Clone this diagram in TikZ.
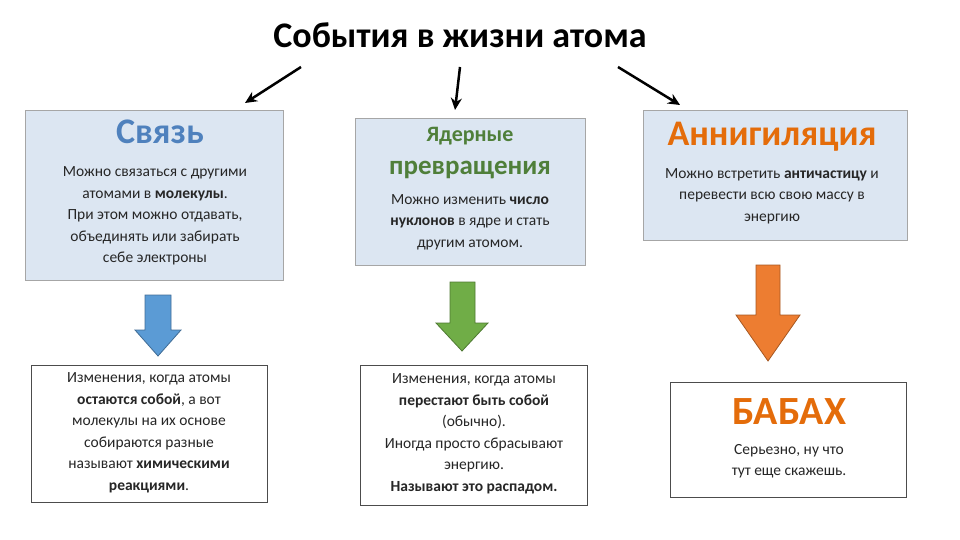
\documentclass[tikz,border=0pt]{standalone}
\usepackage{fontspec}
\setmainfont{Carlito}
\usetikzlibrary{arrows.meta}
\definecolor{boxfill}{HTML}{DCE6F2}
\definecolor{boxline}{HTML}{A6A6A6}
\definecolor{hblue}{HTML}{4F81BD}
\definecolor{hgreen}{HTML}{4F7F3A}
\definecolor{horange}{HTML}{E46C0A}
\definecolor{ablue}{HTML}{5B9BD5}
\definecolor{agreen}{HTML}{70AD47}
\definecolor{aorange}{HTML}{ED7D31}
\begin{document}
\begin{tikzpicture}[x=1pt,y=-1pt,
  topbox/.style={draw=boxline,fill=boxfill,line width=0.8pt},
  botbox/.style={draw=black!70,fill=white,line width=0.8pt},
  txt/.style={align=center,font=\fontsize{15.5}{21.5}\selectfont,text=black!85},
  link/.style={-{Stealth[length=12pt,width=11pt]},line width=2.5pt},
  blockarrow/.style={line width=0.8pt}]
\useasboundingbox (0,0) rectangle (960,540);
\node (title) at (460,35) {\fontsize{36}{40}\selectfont\textbf{События в жизни атома}};
% top boxes
\draw[topbox] (25,110) rectangle (283,280);
\draw[topbox] (355,118) rectangle (585,265);
\draw[topbox] (643,110) rectangle (907,240);
\coordinate (b1) at (245,103);
\coordinate (b2) at (455,110);
\coordinate (b3) at (680,105);
\draw[link] (301,67) -- (b1);
\draw[link] (460,67) -- (b2);
\draw[link] (618,67) -- (b3);
\node (h1) at (160,132) {\fontsize{36}{40}\selectfont\bfseries\color{hblue}Связь};
\node[txt] (t1) at (155,216) {Можно связаться с другими\\атомами в \textbf{молекулы}.\\При этом можно отдавать,\\объединять или забирать\\себе электроны};
\node (h2a) at (470,136) {\fontsize{22}{26}\selectfont\bfseries\color{hgreen}Ядерные};
\node (h2b) at (470,170) {\fontsize{27}{30}\selectfont\bfseries\color{hgreen}превращения};
\node[txt] (t2) at (470,222) {Можно изменить \textbf{число}\\\textbf{нуклонов} в ядре и стать\\другим атомом.};
\node (h3) at (772,137) {\fontsize{36}{40}\selectfont\bfseries\color{horange}Аннигиляция};
\node[txt] (t3) at (772,196) {Можно встретить \textbf{античастицу} и\\перевести всю свою массу в\\энергию};
% block arrows
\draw[blockarrow,draw=ablue!70!black,fill=ablue] (145,295) -- (171,295) -- (171,330) -- (181,330) -- (158,356) -- (135,330) -- (145,330) -- cycle;
\draw[blockarrow,draw=agreen!70!black,fill=agreen] (450,282) -- (475,282) -- (475,323) -- (488,323) -- (462,351) -- (436,323) -- (450,323) -- cycle;
\draw[blockarrow,draw=aorange!70!black,fill=aorange] (756,265) -- (780,265) -- (780,315) -- (800,315) -- (768,361) -- (736,315) -- (756,315) -- cycle;
% bottom boxes
\draw[botbox] (31,365) rectangle (267,502);
\draw[botbox] (360,365) rectangle (587,505);
\draw[botbox] (670,382) rectangle (906,497);
\node[txt] (u1) at (149,433) {Изменения, когда атомы\\\textbf{остаются собой}, а вот\\молекулы на их основе\\собираются разные\\называют \textbf{химическими}\\\textbf{реакциями}.};
\node[txt] (u2) at (474,434) {Изменения, когда атомы\\\textbf{перестают быть собой}\\(обычно).\\Иногда просто сбрасывают\\энергию.\\\textbf{Называют это распадом.}};
\node (h4) at (789,412) {\fontsize{40}{44}\selectfont\bfseries\color{horange}БАБАХ};
\node[txt] (u3) at (789,461) {Серьезно, ну что\\тут еще скажешь.};
\end{tikzpicture}
\end{document}
